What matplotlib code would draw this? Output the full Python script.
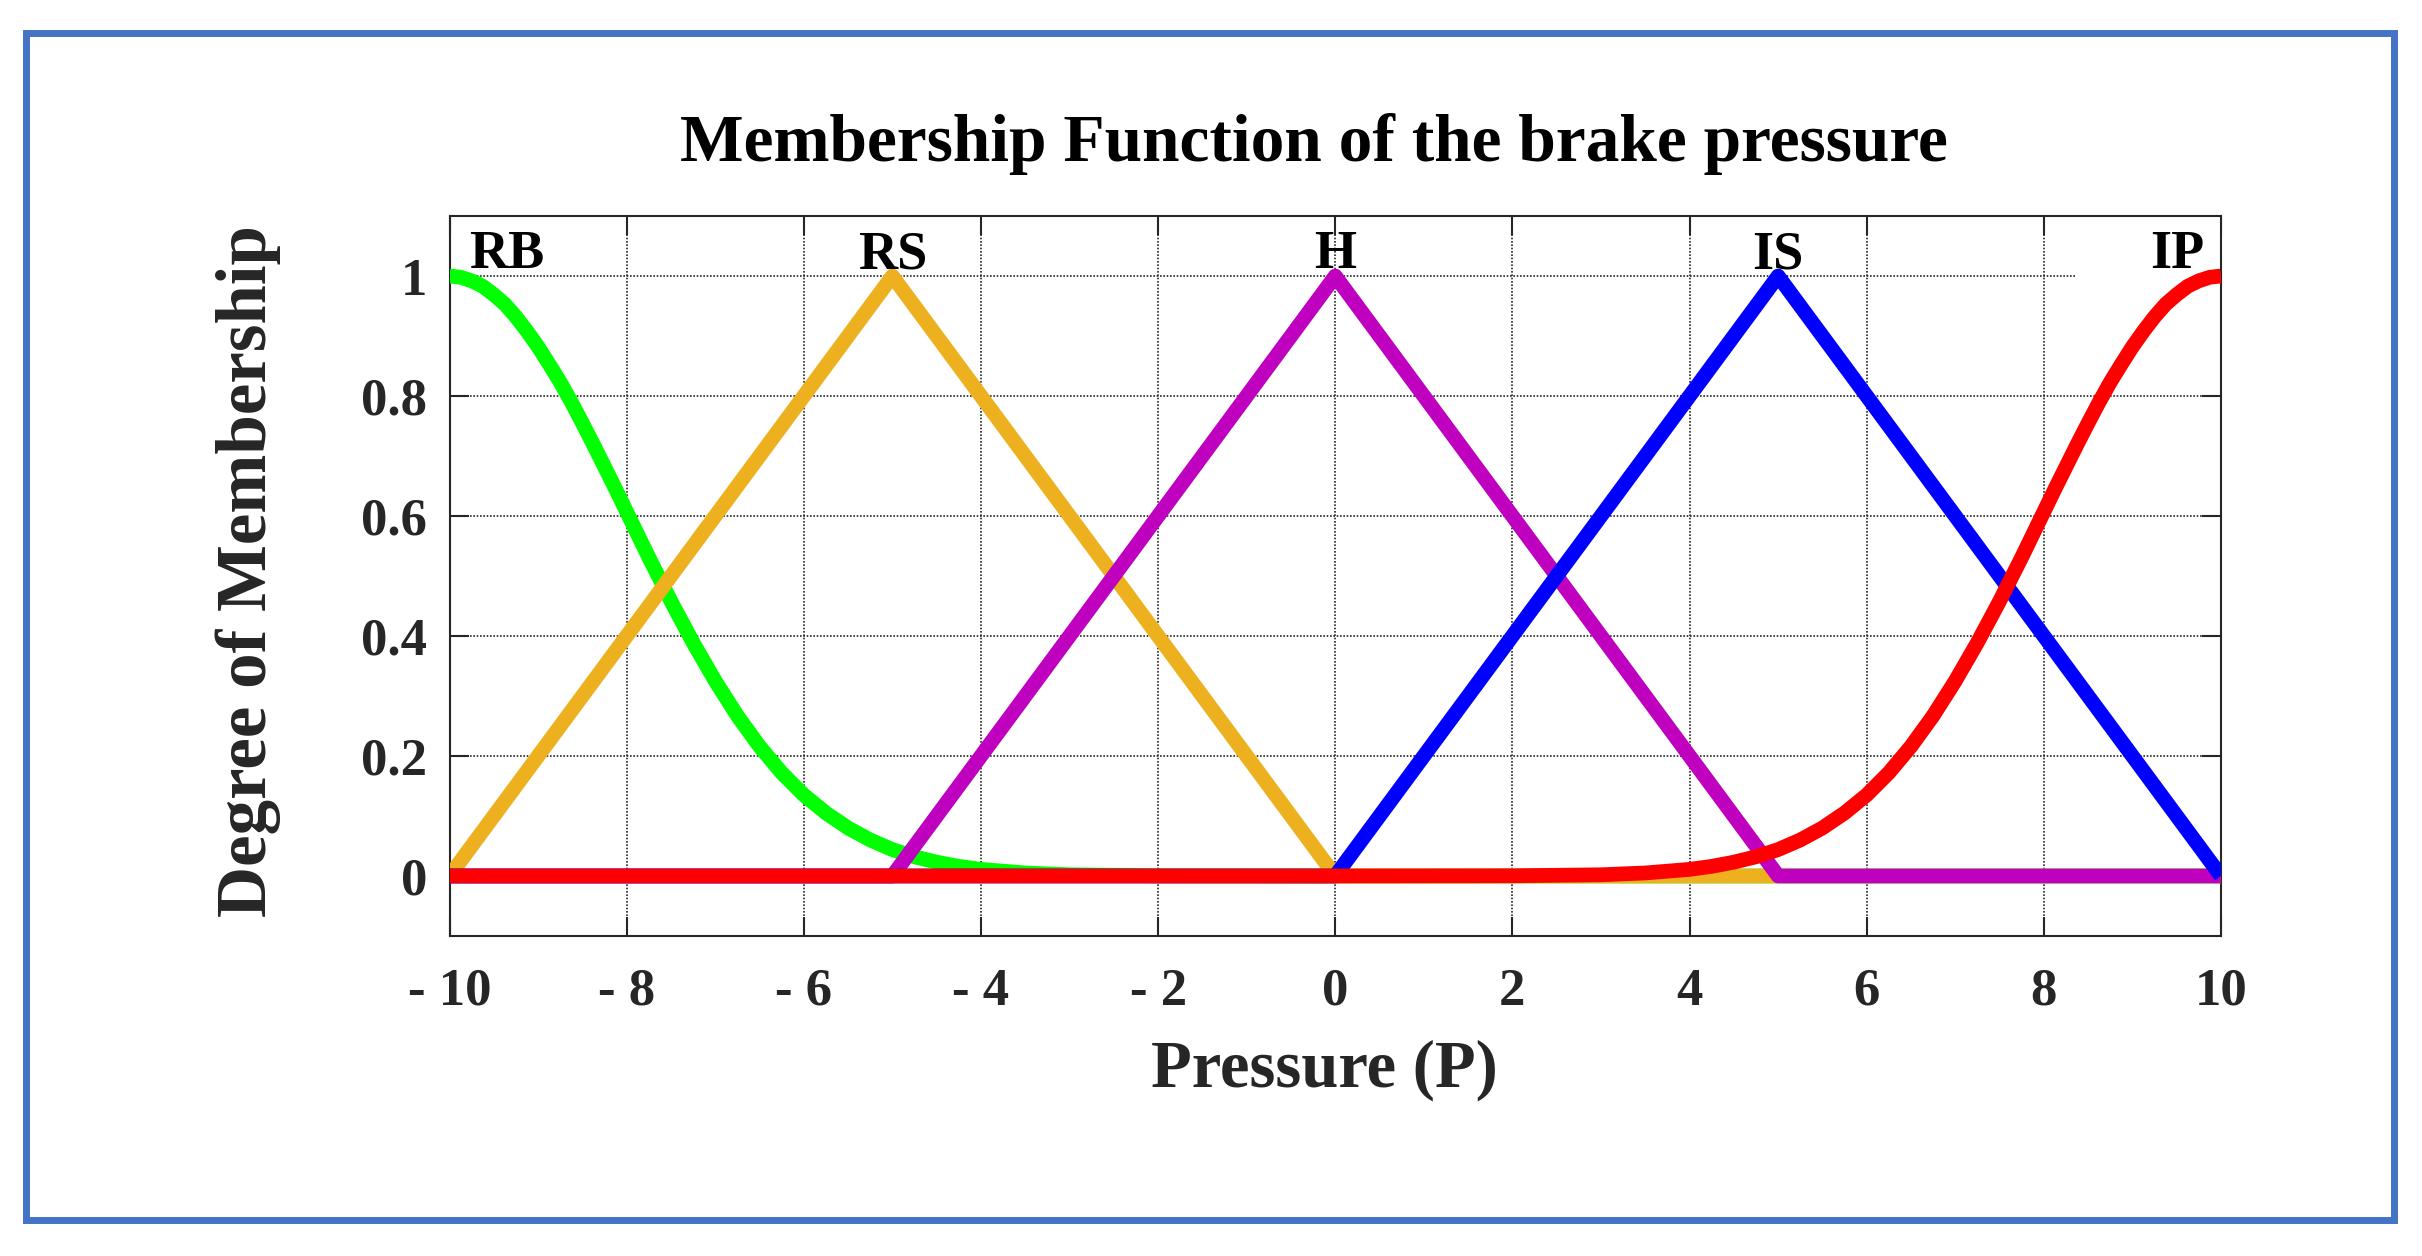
import matplotlib
matplotlib.use("Agg")
import matplotlib.pyplot as plt
from matplotlib.patches import Rectangle

# ---- data ----
rb_x = [-10, -9.875, -9.75, -9.625, -9.5, -9.375, -9.25, -9.125, -9, -8.875, -8.75,
        -8.625, -8.5, -8.375, -8.25, -8.125, -8, -7.75, -7.5, -7.25, -7,
        -6.75, -6.5, -6.25, -6, -5.75, -5.5, -5.25, -5, -4.75, -4.5, -4.25, -4,
        -3.5, -3, -2, 0, 10]
rb_y = [1.0, 0.998, 0.992, 0.983, 0.969, 0.953, 0.932, 0.908, 0.882, 0.853, 0.823,
        0.790, 0.755, 0.719, 0.682, 0.645, 0.607, 0.531, 0.458,
        0.389, 0.325, 0.267, 0.216, 0.172, 0.135, 0.105, 0.080, 0.060, 0.044, 0.032,
        0.023, 0.016, 0.011, 0.005, 0.002, 0.0003, 0.0, 0.0]

rs_x = [-10, -5, 0, 10]
rs_y = [0, 1, 0, 0]

h_x = [-10, -5, 0, 5, 10]
h_y = [0, 0, 1, 0, 0]

is_x = [-10, 0, 5, 10]
is_y = [0, 0, 1, 0]

ip_x = [-10, 0, 2, 3, 3.5, 4, 4.25, 4.5, 4.75, 5, 5.25, 5.5, 5.75, 6, 6.25, 6.5,
        6.75, 7, 7.25, 7.5, 7.75, 8, 8.125, 8.25, 8.375, 8.5, 8.625, 8.75, 8.875,
        9, 9.125, 9.25, 9.375, 9.5, 9.625, 9.75, 9.875, 10]
ip_y = [0.0, 0.0, 0.0003, 0.002, 0.005, 0.011, 0.016, 0.023, 0.032, 0.044, 0.060,
        0.080, 0.105, 0.135, 0.172, 0.216, 0.267, 0.325, 0.389, 0.458, 0.531, 0.607,
        0.645, 0.682, 0.719, 0.755, 0.790, 0.823, 0.853, 0.882, 0.908, 0.932, 0.953,
        0.969, 0.983, 0.992, 0.998, 1.0]

mf_names = ["RB", "RS", "H", "IS", "IP"]
mf_label_x = [-9.35, -5.0, 0.0, 5.0, 9.5]
mf_colors = ["#00FF00", "#EDB120", "#BF00BF", "#0000FF", "#FF0000"]

x_ticks = [-10, -8, -6, -4, -2, 0, 2, 4, 6, 8, 10]
x_tick_labels = ["- 10", "- 8", "- 6", "- 4", "- 2", "0", "2", "4", "6", "8", "10"]
y_ticks = [0, 0.2, 0.4, 0.6, 0.8, 1.0]
y_tick_labels = ["0", "0.2", "0.4", "0.6", "0.8", "1"]

title = "Membership Function of the brake pressure"
xlabel = "Pressure (P)"
ylabel = "Degree of Membership"

# ---- figure ----
FONT = "Liberation Serif"
TXT = "#262626"
fig = plt.figure(figsize=(24.22, 12.56), dpi=100)
fig.patch.set_facecolor("white")

ax = fig.add_axes([0.1856, 0.2548, 0.7314, 0.5732])
ax.set_xlim(-10, 10)
ax.set_ylim(-0.1, 1.1)
ax.set_axisbelow(True)

ax.grid(True, linestyle=(0, (1, 1)), linewidth=1.2, color="#262626")

series = [(rb_x, rb_y), (rs_x, rs_y), (h_x, h_y), (is_x, is_y), (ip_x, ip_y)]
for (xs, ys), c in zip(series, mf_colors):
    ax.plot(xs, ys, color=c, linewidth=10.6, solid_joinstyle="round",
            solid_capstyle="butt", zorder=3)

# white box hiding grid in the upper-right corner
ax.add_patch(Rectangle((8.35, 0.81), 1.65, 0.29, facecolor="white",
                       edgecolor="none", zorder=1))

for name, lx in zip(mf_names, mf_label_x):
    ax.text(lx, 1.013, name, ha="center", va="baseline", fontsize=39,
            fontfamily=FONT, fontweight="bold", color="black", zorder=4)

ax.set_xticks(x_ticks)
ax.set_xticklabels(x_tick_labels)
ax.set_yticks(y_ticks)
ax.set_yticklabels(y_tick_labels)
ax.tick_params(axis="both", direction="in", length=13.5, width=1.5, color=TXT,
               top=True, right=True, labelsize=38, labelcolor=TXT)
ax.tick_params(axis="x", pad=23)
ax.tick_params(axis="y", pad=16)
for lab in ax.get_xticklabels() + ax.get_yticklabels():
    lab.set_fontfamily(FONT)
    lab.set_fontweight("bold")
for s in ax.spines.values():
    s.set_linewidth(1.5)
    s.set_color(TXT)

fig.text(0.5425, 0.8855, title, ha="center", va="center", fontsize=48.5,
         fontfamily=FONT, fontweight="bold", color="black")
fig.text(0.5467, 0.1481, xlabel, ha="center", va="center", fontsize=48,
         fontfamily=FONT, fontweight="bold", color=TXT)
fig.text(0.1025, 0.5454, ylabel, ha="center", va="center", rotation=90,
         fontsize=51, fontfamily=FONT, fontweight="bold", color=TXT)

# blue frame
fig.patches.append(Rectangle((0.01094, 0.02827), 0.9777, 0.9455,
                             transform=fig.transFigure, fill=False,
                             edgecolor="#4472C4", linewidth=5.0))

fig.savefig("out.png", dpi=100, facecolor="white")
